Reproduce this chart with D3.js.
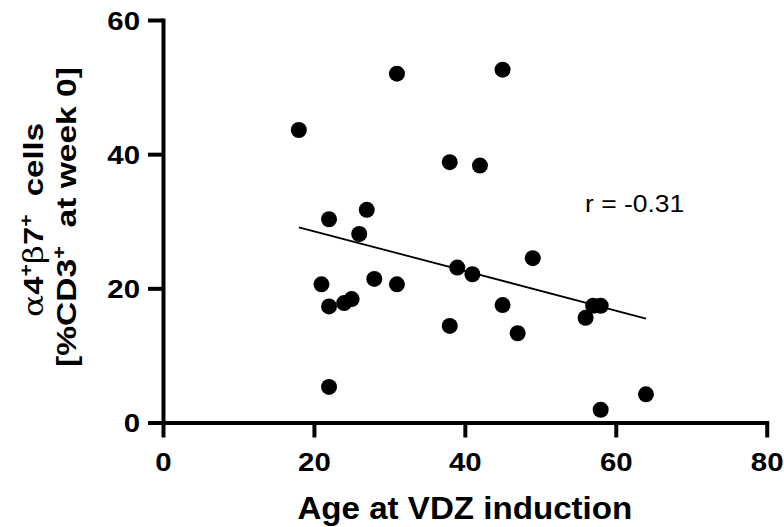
<!DOCTYPE html>
<html><head><meta charset="utf-8">
<script src="https://cdn.jsdelivr.net/npm/d3@7"></script>
<style>
body{margin:0;background:#fff;}
svg{display:block;}
text{font-family:"Liberation Sans",Arial,sans-serif;fill:#000;}
</style></head>
<body>
<svg id="chart" width="784" height="527"></svg>
<script>
const ageValues = [18, 31, 38, 42, 22, 27, 26, 21, 22, 24, 25, 28, 31, 38, 22, 39, 41, 45, 49, 45, 47, 56, 57, 58, 64, 58];
const cellValues = [43.6, 52.0, 38.8, 38.3, 30.3, 31.7, 28.1, 20.6, 17.3, 17.8, 18.4, 21.4, 20.6, 14.4, 5.3, 23.1, 22.1, 52.6, 24.5, 17.5, 13.3, 15.6, 17.4, 17.4, 4.2, 1.9];
const fitX = [18, 64];
const fitY = [29.1, 15.5];
const xTicks = [0, 20, 40, 60, 80];
const yTicks = [0, 20, 40, 60];
const rLabel = "r = -0.31";
const xTitle = "Age at VDZ induction";

const svg = d3.select("#chart");
const x = d3.scaleLinear().domain([0, 80]).range([163, 766.7]);
const y = d3.scaleLinear().domain([0, 60]).range([422.5, 20]);

function stretch(sel, factor) {
  sel.each(function () {
    const w = this.getComputedTextLength();
    d3.select(this).attr("textLength", w * factor).attr("lengthAdjust", "spacingAndGlyphs");
  });
}

// axes
const xAxis = svg.append("g").attr("transform", `translate(0,${y(0)})`)
  .call(d3.axisBottom(x).tickValues(xTicks).tickSize(15).tickSizeOuter(0).tickPadding(15));
const yAxis = svg.append("g").attr("transform", `translate(${x(0)},0)`)
  .call(d3.axisLeft(y).tickValues(yTicks).tickSize(15).tickSizeOuter(0).tickPadding(8));
[xAxis, yAxis].forEach(g => {
  g.selectAll("path.domain").attr("stroke", "#000").attr("stroke-width", 4).attr("stroke-linecap", "square");
  g.selectAll(".tick line").attr("stroke", "#000").attr("stroke-width", 4);
  g.selectAll(".tick text").style("font-family", '"Liberation Sans",Arial,sans-serif')
    .style("font-weight", "bold").style("font-size", "26px").attr("fill", "#000");
  stretch(g.selectAll(".tick text"), 1.13);
});
xAxis.selectAll(".tick text").attr("dy", "0.71em");
yAxis.selectAll(".tick text").attr("dy", "0.36em");

// regression line
svg.append("path")
  .datum(fitX.map((d, i) => [d, fitY[i]]))
  .attr("fill", "none").attr("stroke", "#000").attr("stroke-width", 1.8)
  .attr("d", d3.line().x(d => x(d[0])).y(d => y(d[1])));

// points
svg.append("g").selectAll("circle")
  .data(ageValues.map((d, i) => ({a: d, c: cellValues[i]})))
  .join("circle")
  .attr("cx", d => x(d.a)).attr("cy", d => y(d.c)).attr("r", 8).attr("fill", "#000");

// r label
const rt = svg.append("text").attr("x", 585).attr("y", 211.5)
  .style("font-size", "23px").text(rLabel);
stretch(rt, 1.15);

// x title
const xt = svg.append("text").attr("x", x(40)).attr("y", 519).attr("text-anchor", "middle")
  .style("font-size", "32px").style("font-weight", "bold").text(xTitle);
stretch(xt, 1.035);

// y title: two rotated lines, stretched along text direction
const serif = '"DejaVu Serif","Liberation Serif",serif';
function yLine(cy, baselineX, target, build) {
  const g = svg.append("g");
  const t = g.append("text").attr("text-anchor", "middle")
    .style("font-weight", "bold").style("font-size", "28px");
  build(t);
  const w = t.node().getComputedTextLength();
  g.attr("transform", `translate(${baselineX},${cy}) rotate(-90) scale(${target / w},1)`);
}
yLine(220, 43, 194, t => {
  t.append("tspan").style("font-family", serif).style("font-weight", "normal").text("α");
  t.append("tspan").text("4");
  t.append("tspan").attr("dy", -11).style("font-size", "18px").text("+");
  t.append("tspan").attr("dy", 11).style("font-family", serif).style("font-weight", "normal").text("β");
  t.append("tspan").text("7");
  t.append("tspan").attr("dy", -11).style("font-size", "18px").text("+");
  t.append("tspan").attr("dy", 11).text("\u00a0 cells");
});
yLine(217, 76, 300, t => {
  t.append("tspan").text("[%CD3");
  t.append("tspan").attr("dy", -11).style("font-size", "18px").text("+");
  t.append("tspan").attr("dy", 11).text("\u00a0 at week 0]");
});
</script>
</body></html>
